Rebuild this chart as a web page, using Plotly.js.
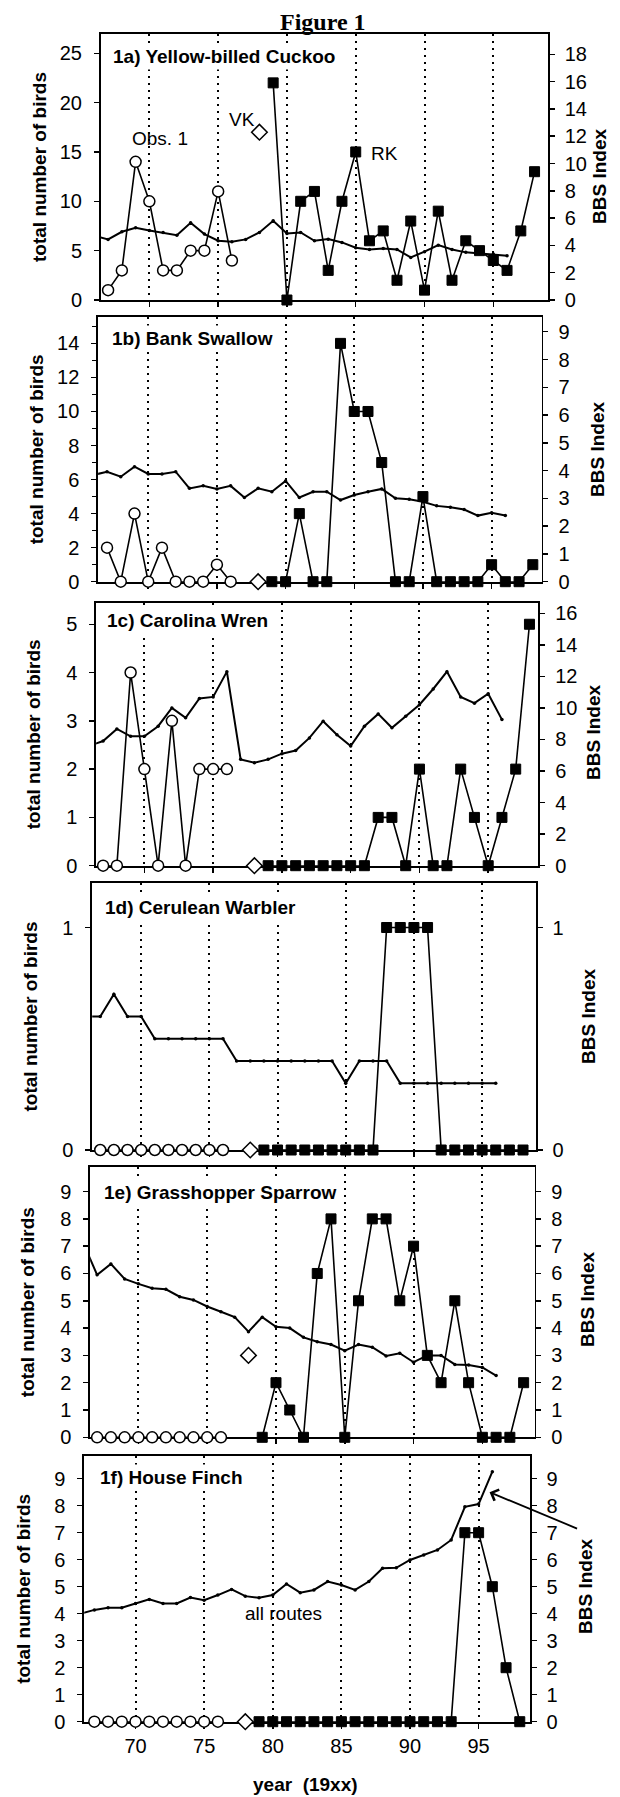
<!DOCTYPE html>
<html><head><meta charset="utf-8">
<script src="https://cdn.plot.ly/plotly-3.0.1.min.js"></script>
<style>html,body{margin:0;padding:0;background:#fff}#c{width:620px;height:1797px}</style>
</head><body><div id="c"></div>
<script>
// ---------- data ----------
const obsYears = [67,68,69,70,71,72,73,74,75,76];
const diamondYear = [78];
const rkYears = [79,80,81,82,83,84,85,86,87,88,89,90,91,92,93,94,95,96,97,98];
const bbsYears = [66,67,68,69,70,71,72,73,74,75,76,77,78,79,80,81,82,83,84,85,86,87,88,89,90,91,92,93,94,95,96];
const xTickVals = [70,75,80,85,90,95];
const panelTitles = ["1a) Yellow-billed Cuckoo","1b) Bank Swallow","1c) Carolina Wren","1d) Cerulean Warbler","1e) Grasshopper Sparrow","1f) House Finch"];

// 1a Yellow-billed Cuckoo
const obsA = [1,3,14,10,3,3,5,5,11,4];
const vkA = [17];
const rkA = [22,0,10,11,3,10,15,6,7,2,8,1,9,2,6,5,4,3,7,13];
const bbsA = [4.7,4.44,5.0,5.3,5.1,4.95,4.75,5.66,4.83,4.34,4.27,4.44,4.95,5.8,4.88,4.95,4.34,4.46,4.22,3.83,3.7,3.78,3.7,3.12,3.54,4.02,3.7,3.49,3.41,3.37,3.24];
// 1b Bank Swallow
const obsB = [2,0,4,0,2,0,0,0,1,0];
const vkB = [0];
const rkB = [0,0,4,0,0,14,10,10,7,0,0,5,0,0,0,0,1,0,0,1];
const bbsB = [3.84,3.96,3.78,4.14,3.88,3.88,3.96,3.36,3.45,3.34,3.45,3.03,3.36,3.24,3.63,3.03,3.24,3.24,2.94,3.12,3.24,3.34,3.0,2.97,2.88,2.73,2.68,2.6,2.38,2.48,2.38];
// 1c Carolina Wren
const obsC = [0,0,4,2,0,3,0,2,2,2];
const vkC = [0];
const rkC = [0,0,0,0,0,0,0,0,1,1,0,2,0,0,2,1,0,1,2,5];
const bbsC = [7.6,7.9,8.67,8.2,8.2,8.84,10.0,9.37,10.6,10.7,12.3,6.74,6.53,6.74,7.1,7.3,8.1,9.16,8.3,7.58,8.84,9.62,8.74,9.47,10.2,11.2,12.3,10.7,10.3,10.9,9.26];
// 1d Cerulean Warbler
const obsD = [0,0,0,0,0,0,0,0,0,0];
const vkD = [0];
const rkD = [0,0,0,0,0,0,0,0,0,1,1,1,1,0,0,0,0,0,0,0];
const bbsD = [0.6,0.6,0.7,0.6,0.6,0.5,0.5,0.5,0.5,0.5,0.5,0.4,0.4,0.4,0.4,0.4,0.4,0.4,0.4,0.3,0.4,0.4,0.4,0.3,0.3,0.3,0.3,0.3,0.3,0.3,0.3];
// 1e Grasshopper Sparrow
const obsE = [0,0,0,0,0,0,0,0,0,0];
const vkE = [3];
const rkE = [0,2,1,0,6,8,0,5,8,8,5,7,3,2,5,2,0,0,0,2];
const bbsE = [7.1,5.95,6.35,5.8,5.62,5.46,5.42,5.15,5.03,4.79,4.6,4.4,3.87,4.4,4.05,4.0,3.66,3.5,3.4,3.17,3.4,3.3,2.98,3.08,2.75,3.0,3.0,2.67,2.65,2.56,2.26];
// 1f House Finch
const obsF = [0,0,0,0,0,0,0,0,0,0];
const vkF = [0];
const rkF = [0,0,0,0,0,0,0,0,0,0,0,0,0,0,0,7,7,5,2,0];
const bbsF = [4.0,4.14,4.22,4.22,4.38,4.53,4.38,4.38,4.6,4.5,4.69,4.9,4.65,4.59,4.69,5.1,4.78,4.88,5.19,5.06,4.88,5.19,5.68,5.7,5.99,6.17,6.36,6.73,7.96,8.06,9.26];

const leftTicks = [[0,5,10,15,20,25],[0,2,4,6,8,10,12,14],[0,1,2,3,4,5],[0,1],[0,1,2,3,4,5,6,7,8,9],[0,1,2,3,4,5,6,7,8,9]];
const rightTicks = [[0,2,4,6,8,10,12,14,16,18],[0,1,2,3,4,5,6,7,8,9],[0,2,4,6,8,10,12,14,16],[0,1],[0,1,2,3,4,5,6,7,8,9],[0,1,2,3,4,5,6,7,8,9]];

// ---------- geometry (pixels of the 620x1797 page) ----------
const W = 620, H = 1797;
const boxL = [100.8, 98.1, 96.1, 92.2, 90.1, 84.2];
const boxR = [547.9, 541.6, 538.4, 535.7, 534.5, 529.8];
const boxT = [34, 317, 603, 883, 1167, 1456];
const boxB = [300, 581.7, 865.7, 1150, 1437.3, 1721.7];
const xRanges = [[66.47,98.97],[66.35,98.64],[66.49,98.65],[66.41,98.93],[66.49,98.79],[66.26,98.73]];
const leftMax = [26.95, 15.55, 5.44, 1.2, 9.9, 9.84];
const rightMax = [19.49, 9.53, 16.65, 1.2, 9.9, 9.84];
const titlePos = [[110,57],[109,338],[104,621],[102,907],[101,1192],[97,1477]];
const yTitleX = [39, 36, 33, 30, 27, 24];
const bbsTitleX = [599, 597, 593, 589, 587, 585];
const bbsTitleY = [177, 450, 733, 1017, 1300, 1587];

const panels = [
  [obsA, vkA, rkA, bbsA],[obsB, vkB, rkB, bbsB],[obsC, vkC, rkC, bbsC],
  [obsD, vkD, rkD, bbsD],[obsE, vkE, rkE, bbsE],[obsF, vkF, rkF, bbsF]
];

const sans = "Liberation Sans, Arial, sans-serif";
const px2x = v => v / W;
const px2y = v => 1 - v / H;

const traces = [];
const layout = {
  width: W, height: H, autosize: false,
  margin: {l:0, r:0, t:0, b:0},
  paper_bgcolor: '#fff', plot_bgcolor: 'rgba(0,0,0,0)',
  showlegend: false,
  annotations: [],
  font: {family: sans, color: '#000'}
};

panels.forEach((p, i) => {
  const n = i + 1;
  const xa = n === 1 ? 'x' : 'x' + n;
  const yl = 'y' + (2*i + 1 === 1 ? '' : (2*i + 1));
  const yr = 'y' + (2*i + 2);
  const xKey = n === 1 ? 'xaxis' : 'xaxis' + n;
  const ylKey = 'yaxis' + (2*i + 1 === 1 ? '' : (2*i + 1));
  const yrKey = 'yaxis' + (2*i + 2);

  const [obs, vk, rk, bbs] = p;
  traces.push({x: bbsYears, y: bbs, xaxis: xa, yaxis: yr, mode: 'lines+markers',
    line: {color: '#000', width: 2}, marker: {color: '#000', size: 3.5}, hoverinfo: 'skip'});
  traces.push({x: obsYears, y: obs, xaxis: xa, yaxis: yl, mode: 'lines+markers', cliponaxis: false,
    line: {color: '#000', width: 1.6},
    marker: {symbol: 'circle', size: 11, color: '#fff', line: {color: '#000', width: 1.5}}});
  traces.push({x: diamondYear, y: vk, xaxis: xa, yaxis: yl, mode: 'markers', cliponaxis: false,
    marker: {symbol: 'diamond', size: 12, color: '#fff', line: {color: '#000', width: 1.5}}});
  traces.push({x: rkYears, y: rk, xaxis: xa, yaxis: yl, mode: 'lines+markers', cliponaxis: false,
    line: {color: '#000', width: 1.6},
    marker: {symbol: 'square', size: 10, color: '#000', line: {color: '#000', width: 1}}});

  const yDom = [px2y(boxB[i]), px2y(boxT[i])];
  layout[xKey] = {
    domain: [px2x(boxL[i]), px2x(boxR[i])], range: xRanges[i], anchor: yl,
    tickmode: 'array', tickvals: xTickVals, ticktext: xTickVals.map(String),
    showticklabels: n === 6, tickfont: {family: sans, size: 20, color: '#000'},
    ticks: 'outside', ticklen: 5, tickwidth: 1.5, tickcolor: '#000',
    showgrid: true, gridcolor: '#000', gridwidth: 2, griddash: '2px,5px',
    showline: true, linecolor: '#000', linewidth: 1.8, mirror: true,
    zeroline: false, layer: 'below traces', fixedrange: true
  };
  layout[ylKey] = {
    domain: yDom, range: [0, leftMax[i]], anchor: xa, side: 'left',
    tickmode: 'array', tickvals: leftTicks[i], ticktext: leftTicks[i].map(String),
    tickfont: {family: sans, size: 20, color: '#000'}, ticklabelstandoff: 8,
    ticks: 'outside', ticklen: 5, tickwidth: 1.5, tickcolor: '#000',
    showgrid: false, zeroline: false, showline: true, linecolor: '#000', linewidth: 1.8,
    layer: 'below traces', fixedrange: true
  };
  if (i === 1) layout[ylKey].minor = {tickvals: [1,3,5,7,9,11,13,15], ticks: 'outside', ticklen: 4, tickcolor: '#000', tickwidth: 1.2};
  layout[yrKey] = {
    overlaying: yl, range: [0, rightMax[i]], anchor: xa, side: 'right',
    tickmode: 'array', tickvals: rightTicks[i], ticktext: rightTicks[i].map(String),
    tickfont: {family: sans, size: 20, color: '#000'}, ticklabelstandoff: 6,
    ticks: 'outside', ticklen: 5, tickwidth: 1.5, tickcolor: '#000',
    showgrid: false, zeroline: false, showline: true, linecolor: '#000', linewidth: 1.8,
    layer: 'below traces', fixedrange: true
  };

  layout.annotations.push({xref: 'paper', yref: 'paper', x: px2x(titlePos[i][0]), y: px2y(titlePos[i][1]),
    xanchor: 'left', yanchor: 'middle', text: '<b>' + panelTitles[i] + '</b>', showarrow: false,
    font: {family: sans, size: 19, color: '#000'}, bgcolor: '#fff', borderpad: 2});
  const midY = (boxT[i] + boxB[i]) / 2;
  layout.annotations.push({xref: 'paper', yref: 'paper', x: px2x(yTitleX[i]), y: px2y(midY),
    xanchor: 'center', yanchor: 'middle', textangle: -90, text: '<b>total number of birds</b>', showarrow: false,
    font: {family: sans, size: 19, color: '#000'}});
  layout.annotations.push({xref: 'paper', yref: 'paper', x: px2x(bbsTitleX[i]), y: px2y(bbsTitleY[i]),
    xanchor: 'center', yanchor: 'middle', textangle: -90, text: '<b>BBS Index</b>', showarrow: false,
    font: {family: sans, size: 19, color: '#000'}});
});

layout.annotations.push({xref: 'paper', yref: 'paper', x: px2x(323), y: px2y(22), xanchor: 'center', yanchor: 'middle',
  text: '<b>Figure 1</b>', showarrow: false, font: {family: 'Liberation Serif, Times New Roman, serif', size: 24, color: '#000'}});
layout.annotations.push({xref: 'paper', yref: 'paper', x: px2x(305), y: px2y(1784), xanchor: 'center', yanchor: 'middle',
  text: '<b>year  (19xx)</b>', showarrow: false, font: {family: sans, size: 19, color: '#000'}});
layout.annotations.push({xref: 'x', yref: 'y', x: 70.8, y: 16.4, xanchor: 'center', yanchor: 'middle',
  text: 'Obs. 1', showarrow: false, font: {family: sans, size: 19, color: '#000'}});
layout.annotations.push({xref: 'x', yref: 'y', x: 76.7, y: 18.3, xanchor: 'center', yanchor: 'middle',
  text: 'VK', showarrow: false, font: {family: sans, size: 19, color: '#000'}});
layout.annotations.push({xref: 'x', yref: 'y', x: 86.0, y: 14.8, xanchor: 'left', yanchor: 'middle',
  text: 'RK', showarrow: false, font: {family: sans, size: 19, color: '#000'}});
layout.annotations.push({xref: 'x6', yref: 'y11', x: 80.8, y: 4.0, xanchor: 'center', yanchor: 'middle',
  text: 'all routes', showarrow: false, font: {family: sans, size: 19, color: '#000'}});
layout.annotations.push({xref: 'x6', yref: 'y12', x: 95.8, y: 8.5, showarrow: true, text: '',
  ax: 89, ay: 37, arrowhead: 4, arrowsize: 1.3, arrowwidth: 1.8, arrowcolor: '#000'});

Plotly.newPlot('c', traces, layout, {staticPlot: true, displayModeBar: false});
</script>
</body></html>
